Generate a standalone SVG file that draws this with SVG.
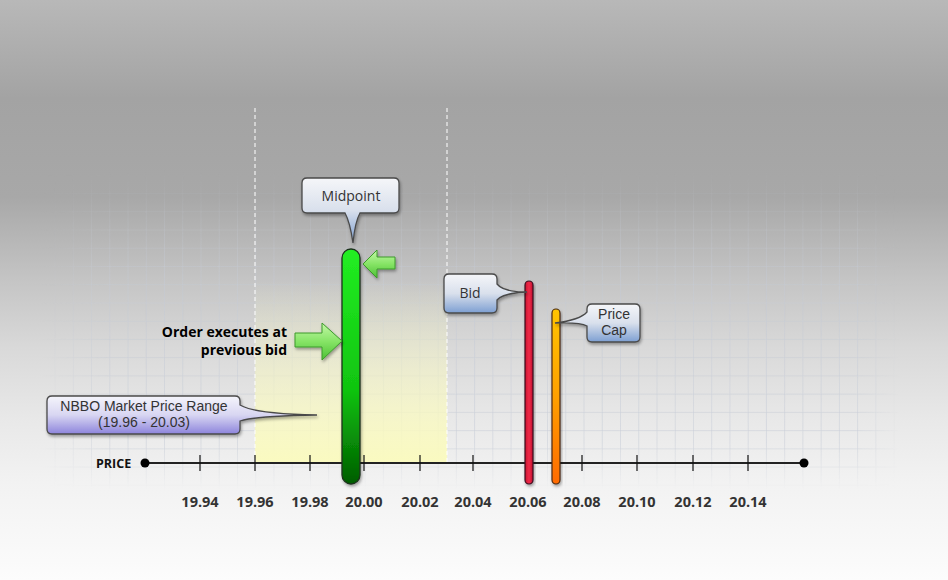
<svg xmlns="http://www.w3.org/2000/svg" width="948" height="580" viewBox="0 0 948 580">
<defs>
<style>
.lbl{font-family:"Open Sans","Noto Sans","Liberation Sans",sans-serif;font-size:14px;fill:#333;text-anchor:middle}
.lbl2{font-family:"Liberation Sans","Open Sans",sans-serif;font-size:14px;fill:#333;text-anchor:middle}
.num{font-family:"Open Sans","Noto Sans","Liberation Sans",sans-serif;font-size:14.5px;font-weight:bold;fill:#333;text-anchor:middle}
.note{font-family:"Open Sans","Noto Sans","Liberation Sans",sans-serif;font-size:14px;font-weight:bold;fill:#000;text-anchor:end}
.callB{fill:url(#gBlue);stroke:#4a4a4a;stroke-width:1.3;filter:url(#sh)}
.callP{fill:url(#gPurp);stroke:#4a4a4a;stroke-width:1.3;filter:url(#sh)}
.tick{stroke:#111;stroke-width:1.2}
.arr{fill:url(#gArr);stroke:#3c9a2c;stroke-width:1;filter:url(#sh)}
</style>
<linearGradient id="bg" x1="0" y1="0" x2="0" y2="1">
<stop offset="0" stop-color="#b8b8b8"/>
<stop offset="0.17" stop-color="#a3a3a3"/>
<stop offset="0.34" stop-color="#a8a8a8"/>
<stop offset="0.48" stop-color="#c4c4c4"/>
<stop offset="0.6" stop-color="#d9d9d9"/>
<stop offset="0.72" stop-color="#e8e8e8"/>
<stop offset="0.83" stop-color="#f2f2f2"/>
<stop offset="1" stop-color="#fcfcfc"/>
</linearGradient>
<linearGradient id="gBlue" x1="0" y1="0" x2="0" y2="1">
<stop offset="0" stop-color="#f5f6f9"/>
<stop offset="0.5" stop-color="#d9e0ec"/>
<stop offset="1" stop-color="#7d9fd2"/>
</linearGradient>
<linearGradient id="gPurp" x1="0" y1="0" x2="0" y2="1">
<stop offset="0" stop-color="#f5f5fb"/>
<stop offset="0.5" stop-color="#d8d6f2"/>
<stop offset="1" stop-color="#8d84dc"/>
</linearGradient>
<linearGradient id="gGreen" x1="0" y1="0" x2="0" y2="1">
<stop offset="0" stop-color="#22ee22"/>
<stop offset="0.6" stop-color="#10c410"/>
<stop offset="1" stop-color="#005c00"/>
</linearGradient>
<linearGradient id="gOr" x1="0" y1="0" x2="0" y2="1">
<stop offset="0" stop-color="#ffc400"/>
<stop offset="0.5" stop-color="#ffa000"/>
<stop offset="1" stop-color="#ff6a00"/>
</linearGradient>
<linearGradient id="gRed" x1="0" y1="0" x2="1" y2="0">
<stop offset="0" stop-color="#c81030"/>
<stop offset="0.5" stop-color="#f02a48"/>
<stop offset="1" stop-color="#c01030"/>
</linearGradient>
<linearGradient id="gArr" x1="0" y1="0" x2="0" y2="1">
<stop offset="0" stop-color="#c4f8a8"/>
<stop offset="0.5" stop-color="#86e466"/>
<stop offset="1" stop-color="#4cc034"/>
</linearGradient>
<linearGradient id="gYel" x1="0" y1="0" x2="0" y2="1">
<stop offset="0" stop-color="#fafac0" stop-opacity="0"/>
<stop offset="1" stop-color="#fafac0" stop-opacity="1"/>
</linearGradient>
<linearGradient id="fadeV" x1="0" y1="0" x2="0" y2="1">
<stop offset="0" stop-color="#fff" stop-opacity="0"/>
<stop offset="0.35" stop-color="#fff" stop-opacity="0.85"/>
<stop offset="0.85" stop-color="#fff" stop-opacity="1"/>
<stop offset="1" stop-color="#fff" stop-opacity="0"/>
</linearGradient>
<linearGradient id="fadeH" x1="0" y1="0" x2="1" y2="0">
<stop offset="0" stop-color="#fff" stop-opacity="0"/>
<stop offset="0.08" stop-color="#fff" stop-opacity="1"/>
<stop offset="0.95" stop-color="#fff" stop-opacity="1"/>
<stop offset="1" stop-color="#fff" stop-opacity="0"/>
</linearGradient>
<mask id="mV" maskUnits="userSpaceOnUse" x="0" y="0" width="948" height="580">
<rect x="0" y="170" width="948" height="320" fill="url(#fadeV)"/>
</mask>
<mask id="mH" maskUnits="userSpaceOnUse" x="0" y="0" width="948" height="580">
<rect x="40" y="0" width="860" height="580" fill="url(#fadeH)"/>
</mask>
<pattern id="grid" patternUnits="userSpaceOnUse" x="200.5" y="229.5" width="18.24" height="18.24">
<path d="M0,0 H18.24 M0,0 V18.24" fill="none" stroke="#c6ccd6" stroke-width="1"/>
</pattern>
<filter id="sh" x="-30%" y="-30%" width="160%" height="160%">
<feDropShadow dx="1" dy="2" stdDeviation="1.5" flood-color="#000" flood-opacity="0.35"/>
</filter>
</defs>

<rect x="0" y="0" width="948" height="580" fill="url(#bg)"/>
<g mask="url(#mH)"><g mask="url(#mV)"><rect x="40" y="170" width="860" height="320" fill="url(#grid)"/></g></g>

<g id="nbbo-range">
<rect x="255" y="280" width="192" height="183" fill="url(#gYel)"/>
<line x1="255" y1="108" x2="255" y2="463" stroke="#fff" stroke-width="1" stroke-dasharray="4,3"/>
<line x1="447" y1="108" x2="447" y2="463" stroke="#fff" stroke-width="1" stroke-dasharray="4,3"/>
</g>

<g id="axis">
<line x1="145" y1="463" x2="804" y2="463" stroke="#222" stroke-width="2"/>
<circle cx="145" cy="463" r="4.5" fill="#000"/>
<circle cx="804" cy="463" r="4.5" fill="#000"/>
<g class="tick">
<line x1="200" y1="455" x2="200" y2="471"/>
<line x1="255" y1="455" x2="255" y2="471"/>
<line x1="310" y1="455" x2="310" y2="471"/>
<line x1="364" y1="455" x2="364" y2="471"/>
<line x1="420" y1="455" x2="420" y2="471"/>
<line x1="473" y1="455" x2="473" y2="471"/>
<line x1="528" y1="455" x2="528" y2="471"/>
<line x1="582" y1="455" x2="582" y2="471"/>
<line x1="637" y1="455" x2="637" y2="471"/>
<line x1="693" y1="455" x2="693" y2="471"/>
<line x1="748" y1="455" x2="748" y2="471"/>
</g>
<text x="96" y="468" font-family="Open Sans,Noto Sans,Liberation Sans,sans-serif" font-size="12.5" font-weight="bold" fill="#111">PRICE</text>
<text class="num" x="200" y="507">19.94</text>
<text class="num" x="255" y="507">19.96</text>
<text class="num" x="310" y="507">19.98</text>
<text class="num" x="364" y="507">20.00</text>
<text class="num" x="420" y="507">20.02</text>
<text class="num" x="473" y="507">20.04</text>
<text class="num" x="528" y="507">20.06</text>
<text class="num" x="582" y="507">20.08</text>
<text class="num" x="637" y="507">20.10</text>
<text class="num" x="693" y="507">20.12</text>
<text class="num" x="748" y="507">20.14</text>
</g>

<g id="midpoint-bar"><rect x="342" y="249" width="18" height="235" rx="9" fill="url(#gGreen)" stroke="#1c321c" stroke-width="1.3" filter="url(#sh)"/></g>
<g id="bid-bar"><rect x="525" y="281" width="8" height="203" rx="4" fill="url(#gRed)" stroke="#3a1020" stroke-width="1.2" filter="url(#sh)"/></g>
<g id="pricecap-bar"><rect x="552" y="309" width="8" height="175" rx="4" fill="url(#gOr)" stroke="#4a2a10" stroke-width="1.2" filter="url(#sh)"/></g>

<g id="connectors">
<path class="arr" d="M295,333 H322 V323 L342,341 L322,360 V347 H295 Z"/>
<path class="arr" d="M395,257 H377 V250 L363,264 L377,278 V269 H395 Z"/>
</g>

<g id="midpoint-callout">
<path class="callB" d="M307,178 H394 Q399,178 399,183 V208 Q399,213 394,213 H360 Q355,222 353,243 Q350,222 345,213 H307 Q302,213 302,208 V183 Q302,178 307,178 Z"/>
<text class="lbl" x="351" y="201">Midpoint</text>
</g>

<g id="bid-callout">
<path class="callB" d="M449,274 H492 Q497,274 497,279 V284 Q503,292 527,292 Q503,293 497,300 V308 Q497,313 492,313 H449 Q444,313 444,308 V279 Q444,274 449,274 Z"/>
<text class="lbl" x="470" y="298">Bid</text>
</g>

<g id="pricecap-callout">
<path class="callB" d="M592,304 H635 Q640,304 640,309 V337 Q640,342 635,342 H592 Q587,342 587,337 V326 Q580,322 555,323 Q580,320 587,312 V309 Q587,304 592,304 Z"/>
<text class="lbl2" x="614" y="319"><tspan x="614">Price</tspan><tspan x="614" dy="16">Cap</tspan></text>
</g>

<g id="nbbo-callout">
<path class="callP" d="M52,396 H235 Q240,396 240,401 V405 Q255,414 317,415 Q255,416 240,421 V429 Q240,434 235,434 H52 Q47,434 47,429 V401 Q47,396 52,396 Z"/>
<text class="lbl2" x="144" y="411"><tspan x="144">NBBO Market Price Range</tspan><tspan x="144" dy="16">(19.96 - 20.03)</tspan></text>
</g>

<g id="execution-note">
<text class="note" x="287" y="337">Order executes at</text>
<text class="note" x="287" y="355">previous bid</text>
</g>
</svg>
